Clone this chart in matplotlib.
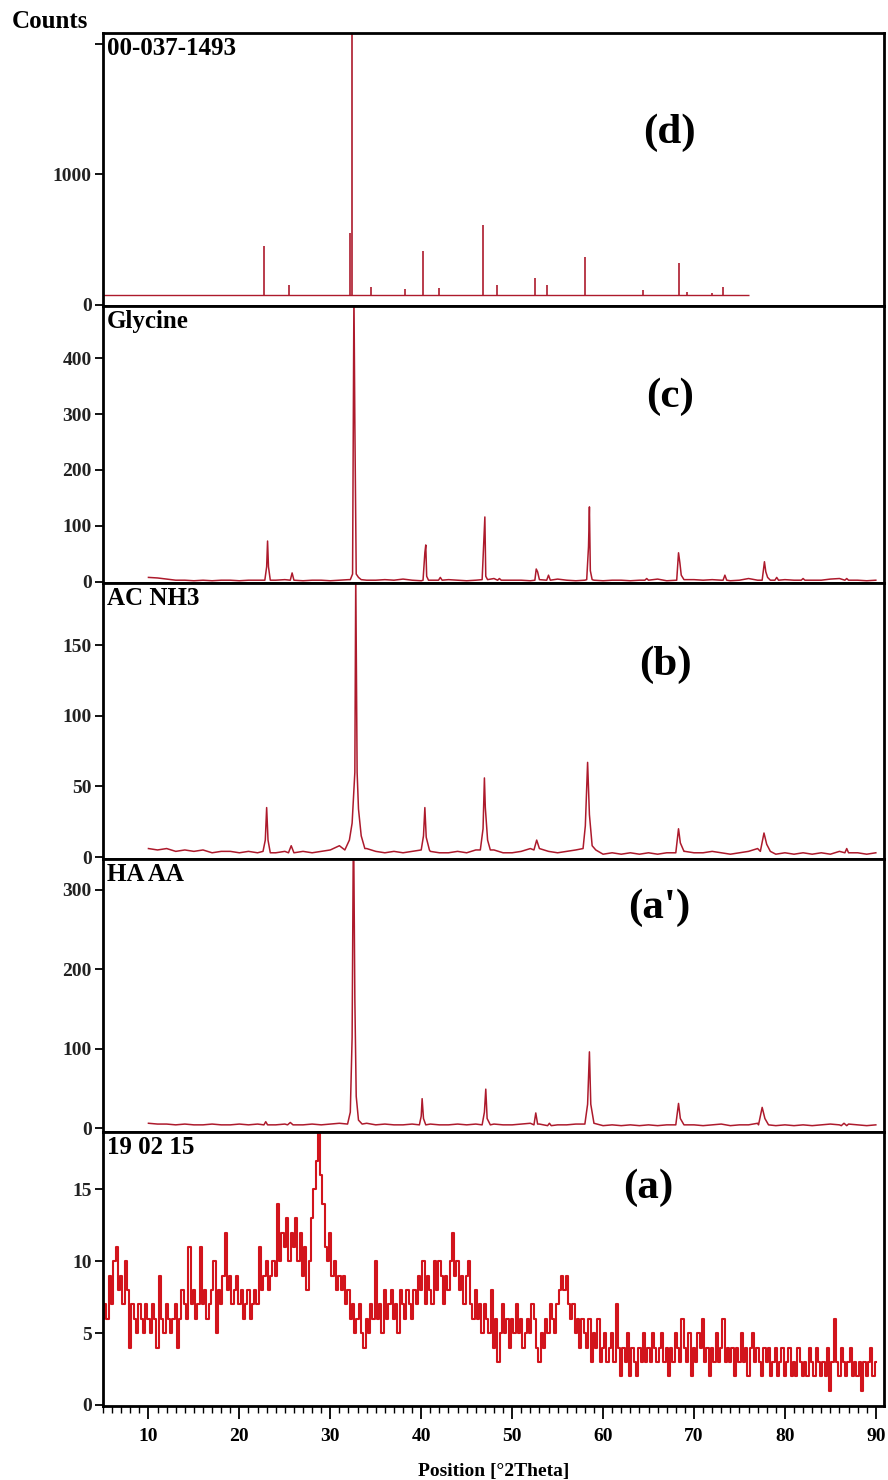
import numpy as np
import matplotlib
matplotlib.use("Agg")
import matplotlib.pyplot as plt

plt.rcParams['font.family'] = ['Liberation Serif', 'DejaVu Serif']
plt.rcParams['font.weight'] = 'bold'

# ----------------------------------------------------------------------
# Data (positions in deg 2theta, counts)

# (d) 00-037-1493 reference pattern : sticks on a flat base
d_base = 75
d_end = 76.0
d_pos = [22.7, 25.5, 32.2, 32.4, 34.5, 38.2, 40.2, 42.0, 46.8, 48.3,
         52.5, 53.8, 58.0, 64.4, 68.3, 69.2, 72.0, 73.2]
d_cnt = [452, 153, 550, 2100, 138, 120, 415, 130, 613, 153,
         207, 153, 368, 115, 322, 100, 95, 140]

# background of the measured patterns, one value per degree 10..90
bg_pos = np.arange(10, 91, 1.0)

bg_c = [8, 7, 5, 3, 3, 2, 3, 2, 3, 3,
        2, 3, 3, 4, 3, 4, 3, 2, 3, 3,
        2, 3, 4, 5, 3, 3, 4, 3, 5, 3,
        2, 3, 3, 4, 3, 2, 3, 4, 6, 3,
        3, 3, 2, 4, 3, 5, 3, 2, 3, 3,
        2, 3, 3, 2, 3, 4, 5, 2, 3, 4,
        4, 3, 4, 3, 2, 3, 6, 3, 3, 6,
        4, 3, 2, 3, 3, 5, 6, 4, 3, 2, 3]

bg_b = [6, 5, 6, 4, 5, 4, 5, 3, 4, 4,
        3, 4, 3, 4, 3, 4, 3, 4, 3, 4,
        5, 8, 12, 10, 6, 4, 3, 4, 3, 4,
        6, 4, 3, 3, 4, 3, 5, 8, 5, 3,
        3, 4, 6, 5, 4, 3, 4, 5, 9, 5,
        2, 3, 2, 3, 2, 3, 2, 3, 6, 4,
        3, 3, 4, 3, 2, 3, 4, 6, 5, 2,
        3, 2, 3, 2, 3, 2, 4, 5, 3, 2, 3]

bg_ap = [6, 5, 5, 4, 5, 4, 4, 5, 4, 4,
         5, 4, 5, 6, 4, 5, 4, 4, 5, 4,
         5, 6, 10, 8, 6, 4, 5, 4, 4, 5,
         6, 5, 4, 4, 5, 4, 5, 6, 5, 4,
         4, 5, 6, 5, 5, 4, 4, 5, 8, 5,
         3, 4, 3, 4, 3, 4, 3, 4, 6, 4,
         4, 3, 4, 5, 3, 4, 4, 6, 5, 3,
         4, 3, 4, 3, 4, 5, 4, 5, 4, 3, 4]

# peaks: each one a short list of (2theta, counts) points
c_peaks = [
    [(22.8, 3), (23.0, 27), (23.1, 73), (23.2, 27), (23.4, 3)],
    [(25.6, 3), (25.8, 16), (26.0, 3)],
    [(32.2, 4), (32.45, 14), (32.6, 520), (32.7, 284), (32.85, 14), (33.1, 8), (33.4, 4)],
    [(40.2, 3), (40.4, 52), (40.5, 66), (40.6, 10), (40.8, 3)],
    [(41.9, 3), (42.1, 8), (42.3, 3)],
    [(46.7, 4), (46.9, 78), (47.0, 116), (47.1, 10), (47.3, 4)],
    [(48.4, 3), (48.6, 6), (48.8, 3)],
    [(52.5, 3), (52.65, 23), (52.8, 18), (53.0, 4)],
    [(53.8, 3), (54.0, 12), (54.2, 3)],
    [(58.2, 4), (58.4, 63), (58.5, 134), (58.6, 20), (58.8, 4)],
    [(64.6, 3), (64.8, 6), (65.0, 3)],
    [(68.1, 3), (68.3, 52), (68.45, 34), (68.6, 12), (68.9, 4)],
    [(73.2, 3), (73.4, 12), (73.6, 3)],
    [(77.5, 3), (77.75, 36), (77.9, 18), (78.1, 8), (78.4, 3)],
    [(78.9, 3), (79.1, 8), (79.3, 3)],
    [(81.8, 3), (82.0, 6), (82.2, 3)],
    [(86.6, 3), (86.8, 6), (87.0, 3)],
]

b_peaks = [
    [(22.6, 4), (22.85, 12), (23.0, 35), (23.15, 12), (23.4, 3)],
    [(25.4, 3), (25.7, 8), (26.0, 3)],
    [(31.6, 5), (32.1, 12), (32.4, 24), (32.7, 60), (32.8, 200), (32.95, 60),
     (33.1, 34), (33.4, 15), (33.8, 6)],
    [(40.0, 5), (40.25, 15), (40.4, 35), (40.55, 14), (40.9, 5)],
    [(46.5, 5), (46.8, 20), (46.95, 56), (47.05, 35), (47.3, 12), (47.6, 5)],
    [(52.4, 5), (52.7, 12), (53.0, 6)],
    [(57.8, 6), (58.05, 22), (58.3, 67), (58.5, 30), (58.8, 8), (59.2, 5)],
    [(68.0, 3), (68.3, 20), (68.5, 10), (68.9, 4)],
    [(77.3, 4), (77.7, 17), (78.0, 9), (78.4, 4)],
    [(86.6, 3), (86.8, 6), (87.0, 3)],
]

ap_peaks = [
    [(22.7, 4), (22.9, 8), (23.1, 4)],
    [(25.3, 4), (25.6, 7), (25.9, 4)],
    [(31.9, 5), (32.2, 20), (32.4, 114), (32.55, 400), (32.7, 162), (32.85, 40),
     (33.1, 10), (33.5, 5)],
    [(39.8, 4), (40.0, 15), (40.1, 37), (40.25, 12), (40.5, 4)],
    [(46.7, 4), (46.95, 20), (47.1, 49), (47.25, 12), (47.6, 4)],
    [(52.4, 4), (52.6, 19), (52.8, 5)],
    [(53.9, 3), (54.1, 6), (54.3, 3)],
    [(58.0, 5), (58.3, 30), (58.5, 96), (58.65, 30), (59.0, 6)],
    [(68.0, 4), (68.3, 31), (68.5, 12), (68.9, 4)],
    [(77.1, 4), (77.5, 26), (77.8, 12), (78.2, 4)],
    [(86.2, 3), (86.5, 6), (86.8, 3)],
]

# (a) 19 02 15 : raw counts, every 0.25 deg from 5 to 90
a_pos = np.arange(5, 90.01, 0.25)
a_cnt = [6, 7, 6, 9,   7, 10, 11, 8,   9, 7, 10, 8,   4, 7, 6, 5,   7, 6, 5, 7,     # 5-9
         6, 5, 7, 6,   4, 9, 6, 5,   7, 6, 5, 6,   7, 4, 6, 8,   7, 6, 11, 7,     # 10-14
         8, 6, 7, 11,  7, 8, 6, 7,   8, 10, 5, 8,  7, 9, 12, 8,  9, 7, 8, 9,      # 15-19
         7, 8, 6, 7,   8, 6, 7, 8,   7, 11, 8, 9,  10, 8, 9, 10, 9, 14, 10, 12,   # 20-24
         11, 13, 10, 12, 11, 13, 10, 12, 9, 11, 8, 10, 13, 15, 17, 19, 16, 14, 11, 10,  # 25-29
         12, 9, 10, 8, 9, 8, 9, 7,   8, 6, 7, 5,   6, 7, 5, 4,   6, 5, 7, 6,     # 30-34
         10, 6, 7, 5,  8, 6, 7, 8,   6, 7, 5, 8,   7, 6, 8, 7,   6, 8, 7, 9,     # 35-39
         8, 10, 7, 9,  8, 7, 10, 8,  10, 9, 7, 9,  8, 10, 12, 9, 10, 8, 9, 7,     # 40-44
         9, 10, 7, 6,  8, 6, 7, 5,   7, 6, 5, 8,   4, 6, 3, 5,   7, 5, 6, 4,     # 45-49
         6, 5, 7, 5,   6, 4, 5, 6,   5, 7, 6, 4,   3, 5, 4, 6,   5, 7, 6, 5,     # 50-54
         7, 8, 9, 8,   9, 7, 6, 7,   5, 6, 4, 6,   5, 4, 6, 3,   5, 4, 6, 3,     # 55-59
         4, 5, 3, 4,   5, 3, 7, 4,   2, 4, 3, 5,   2, 4, 3, 2,   4, 3, 5, 3,     # 60-64
         4, 3, 5, 4,   3, 4, 5, 3,   4, 2, 4, 3,   5, 4, 3, 6,   4, 3, 5, 2,     # 65-69
         4, 3, 5, 4,   6, 3, 4, 2,   4, 3, 5, 3,   4, 6, 3, 4,   3, 4, 2, 4,     # 70-74
         3, 5, 3, 4,   2, 4, 5, 3,   4, 3, 2, 4,   3, 4, 2, 3,   4, 2, 3, 4,     # 75-79
         2, 3, 4, 2,   3, 2, 4, 3,   2, 3, 2, 4,   3, 2, 4, 3,   2, 3, 2, 4,     # 80-84
         1, 3, 6, 3,   2, 4, 3, 2,   3, 4, 2, 3,   2, 3, 1, 3,   2, 3, 4, 2,     # 85-89
         3]

panel_names = ['00-037-1493', 'Glycine', 'AC NH3', 'HA AA', '19 02 15']
panel_tags = ['(d)', '(c)', '(b)', "(a')", '(a)']
y_ticks = [[0, 1000, 2000], [0, 100, 200, 300, 400], [0, 50, 100, 150],
           [0, 100, 200, 300], [0, 5, 10, 15]]
y_ticklabels = [['0', '1000', ''], None, None, None, None]
y_lims = [(-8, 2084), (-2, 493), (-1.4, 194), (-5, 339), (-0.07, 19.0)]


def merge(bg_y, peaks):
    """background + peak points, background dropped under each peak"""
    keep = np.ones(len(bg_pos), dtype=bool)
    for seg in peaks:
        lo, hi = seg[0][0], seg[-1][0]
        keep &= ~((bg_pos >= lo) & (bg_pos <= hi))
    xs = list(bg_pos[keep]) + [p[0] for seg in peaks for p in seg]
    ys = list(np.array(bg_y)[keep]) + [p[1] for seg in peaks for p in seg]
    order = np.argsort(xs)
    return np.array(xs)[order], np.array(ys)[order]


# ----------------------------------------------------------------------
W, H = 888, 1480
L, R = 103, 884
bounds = [(33, 306), (306, 583), (583, 859), (859, 1132), (1132, 1406)]
dark_red = '#ad1a2c'

fig = plt.figure(figsize=(W / 100, H / 100), dpi=100)
axes = []
for top, bot in bounds:
    ax = fig.add_axes([L / W, 1 - bot / H, (R - L) / W, (bot - top) / H])
    axes.append(ax)

# (d)
ax = axes[0]
ax.hlines(d_base, 5, d_end, color=dark_red, lw=1.0)
ax.vlines(d_pos, d_base, d_cnt, color=dark_red, lw=1.2)

# (c), (b), (a')
for ax, bg, pk in zip(axes[1:4], [bg_c, bg_b, bg_ap], [c_peaks, b_peaks, ap_peaks]):
    xs, ys = merge(bg, pk)
    ax.plot(xs, ys, color=dark_red, lw=1.1)

# (a)
axes[4].plot(a_pos, a_cnt, color='#d2141c', lw=1.5, drawstyle='steps-mid')

for i, ax in enumerate(axes):
    ax.set_xlim(5, 90.9)
    ax.set_ylim(*y_lims[i])
    ax.set_yticks(y_ticks[i])
    if y_ticklabels[i] is not None:
        ax.set_yticklabels(y_ticklabels[i])
    for sp in ax.spines.values():
        sp.set_linewidth(2.0)
        sp.set_color('black')
    ax.tick_params(axis='y', direction='out', length=6, width=1.3, pad=2,
                   labelsize=14, labelcolor='#222222')
    for lab in ax.get_yticklabels():
        lab.set_fontweight('bold')
    if i < 4:
        ax.tick_params(axis='x', bottom=False, labelbottom=False)
    ax.text(0.005, 0.985, panel_names[i], transform=ax.transAxes,
            ha='left', va='top', fontsize=18, fontweight='bold')
    tag_x = [669, 670, 665, 659, 648][i]
    tag_y = [133, 397, 665, 908, 1188][i]
    fig.text(tag_x / W, 1 - tag_y / H, panel_tags[i], ha='center', va='center',
             fontsize=31, fontweight='bold')

ax = axes[4]
ax.set_xticks(np.arange(10, 91, 10))
ax.set_xticks(np.arange(5, 91, 1), minor=True)
ax.tick_params(axis='x', which='major', direction='out', length=9, width=1.3,
               labelsize=14, pad=7)
ax.tick_params(axis='x', which='minor', direction='out', length=5, width=1.0)
for lab in ax.get_xticklabels():
    lab.set_fontweight('bold')
ax.set_xlabel('Position [°2Theta]', fontsize=14, fontweight='bold', labelpad=13)

fig.text(12 / W, 1 - 21 / H, 'Counts', ha='left', va='center',
         fontsize=18, fontweight='bold')

fig.savefig('out.png', dpi=100)
